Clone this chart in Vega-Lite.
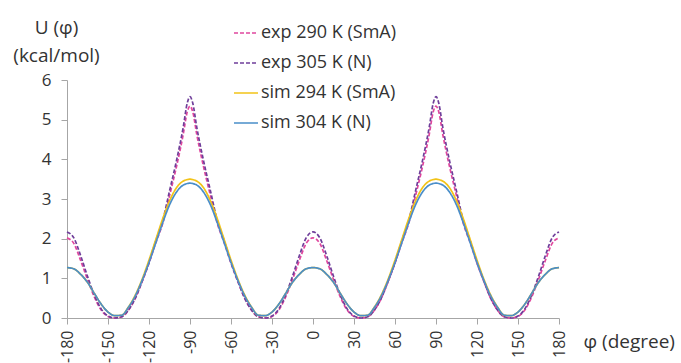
{
"$schema": "https://vega.github.io/schema/vega-lite/v6.json",
"width": 492, "height": 238,
"autosize": {"type": "none"},
"padding": {"left": 67, "top": 80, "right": 122, "bottom": 45},
"config": {"view": {"stroke": null}, "font": "Open Sans",
  "axis": {"domainColor": "#a6a6a6", "tickColor": "#a6a6a6", "tickSize": 6, "labelColor": "#333333", "titleColor": "#333333", "labelFontSize": 17, "titleFontSize": 19, "titleFontWeight": "normal", "grid": false}},
"data": {"values": [
{"phi":-180,"a":2.02,"b":2.17,"c":1.27,"d":1.27},
{"phi":-175,"a":1.88,"b":2.02,"c":1.24,"d":1.24},
{"phi":-170,"a":1.45,"b":1.57,"c":1.1,"d":1.1},
{"phi":-165,"a":0.97,"b":1.05,"c":0.9,"d":0.9},
{"phi":-160,"a":0.53,"b":0.58,"c":0.62,"d":0.62},
{"phi":-155,"a":0.2,"b":0.23,"c":0.35,"d":0.35},
{"phi":-150,"a":0.04,"b":0.05,"c":0.15,"d":0.15},
{"phi":-145,"a":0,"b":0,"c":0.06,"d":0.06},
{"phi":-140,"a":0.03,"b":0.03,"c":0.07,"d":0.07},
{"phi":-135,"a":0.2,"b":0.2,"c":0.28,"d":0.27},
{"phi":-130,"a":0.5,"b":0.5,"c":0.58,"d":0.56},
{"phi":-125,"a":0.92,"b":0.93,"c":0.98,"d":0.95},
{"phi":-120,"a":1.38,"b":1.4,"c":1.46,"d":1.4},
{"phi":-115,"a":1.9,"b":1.95,"c":1.98,"d":1.9},
{"phi":-110,"a":2.38,"b":2.45,"c":2.5,"d":2.4},
{"phi":-105,"a":3.08,"b":3.2,"c":2.95,"d":2.85},
{"phi":-100,"a":3.8,"b":3.95,"c":3.28,"d":3.17},
{"phi":-95,"a":4.62,"b":4.8,"c":3.45,"d":3.35},
{"phi":-92,"a":5.2,"b":5.42,"c":3.49,"d":3.39},
{"phi":-90,"a":5.34,"b":5.58,"c":3.5,"d":3.4},
{"phi":-88,"a":5.2,"b":5.42,"c":3.49,"d":3.39},
{"phi":-85,"a":4.62,"b":4.8,"c":3.45,"d":3.35},
{"phi":-80,"a":3.8,"b":3.95,"c":3.28,"d":3.17},
{"phi":-75,"a":3.08,"b":3.2,"c":2.95,"d":2.85},
{"phi":-70,"a":2.38,"b":2.45,"c":2.5,"d":2.4},
{"phi":-65,"a":1.9,"b":1.95,"c":1.98,"d":1.9},
{"phi":-60,"a":1.38,"b":1.4,"c":1.46,"d":1.4},
{"phi":-55,"a":0.92,"b":0.93,"c":0.98,"d":0.95},
{"phi":-50,"a":0.5,"b":0.5,"c":0.58,"d":0.56},
{"phi":-45,"a":0.2,"b":0.2,"c":0.28,"d":0.27},
{"phi":-40,"a":0.03,"b":0.03,"c":0.07,"d":0.07},
{"phi":-35,"a":0,"b":0,"c":0.06,"d":0.06},
{"phi":-30,"a":0.04,"b":0.05,"c":0.15,"d":0.15},
{"phi":-25,"a":0.2,"b":0.23,"c":0.35,"d":0.35},
{"phi":-20,"a":0.53,"b":0.58,"c":0.62,"d":0.62},
{"phi":-15,"a":0.97,"b":1.05,"c":0.9,"d":0.9},
{"phi":-10,"a":1.45,"b":1.57,"c":1.1,"d":1.1},
{"phi":-5,"a":1.88,"b":2.02,"c":1.24,"d":1.24},
{"phi":0,"a":2.02,"b":2.17,"c":1.27,"d":1.27},
{"phi":5,"a":1.88,"b":2.02,"c":1.24,"d":1.24},
{"phi":10,"a":1.45,"b":1.57,"c":1.1,"d":1.1},
{"phi":15,"a":0.97,"b":1.05,"c":0.9,"d":0.9},
{"phi":20,"a":0.53,"b":0.58,"c":0.62,"d":0.62},
{"phi":25,"a":0.2,"b":0.23,"c":0.35,"d":0.35},
{"phi":30,"a":0.04,"b":0.05,"c":0.15,"d":0.15},
{"phi":35,"a":0,"b":0,"c":0.06,"d":0.06},
{"phi":40,"a":0.03,"b":0.03,"c":0.07,"d":0.07},
{"phi":45,"a":0.2,"b":0.2,"c":0.28,"d":0.27},
{"phi":50,"a":0.5,"b":0.5,"c":0.58,"d":0.56},
{"phi":55,"a":0.92,"b":0.93,"c":0.98,"d":0.95},
{"phi":60,"a":1.38,"b":1.4,"c":1.46,"d":1.4},
{"phi":65,"a":1.9,"b":1.95,"c":1.98,"d":1.9},
{"phi":70,"a":2.38,"b":2.45,"c":2.5,"d":2.4},
{"phi":75,"a":3.08,"b":3.2,"c":2.95,"d":2.85},
{"phi":80,"a":3.8,"b":3.95,"c":3.28,"d":3.17},
{"phi":85,"a":4.62,"b":4.8,"c":3.45,"d":3.35},
{"phi":88,"a":5.2,"b":5.42,"c":3.49,"d":3.39},
{"phi":90,"a":5.34,"b":5.58,"c":3.5,"d":3.4},
{"phi":92,"a":5.2,"b":5.42,"c":3.49,"d":3.39},
{"phi":95,"a":4.62,"b":4.8,"c":3.45,"d":3.35},
{"phi":100,"a":3.8,"b":3.95,"c":3.28,"d":3.17},
{"phi":105,"a":3.08,"b":3.2,"c":2.95,"d":2.85},
{"phi":110,"a":2.38,"b":2.45,"c":2.5,"d":2.4},
{"phi":115,"a":1.9,"b":1.95,"c":1.98,"d":1.9},
{"phi":120,"a":1.38,"b":1.4,"c":1.46,"d":1.4},
{"phi":125,"a":0.92,"b":0.93,"c":0.98,"d":0.95},
{"phi":130,"a":0.5,"b":0.5,"c":0.58,"d":0.56},
{"phi":135,"a":0.2,"b":0.2,"c":0.28,"d":0.27},
{"phi":140,"a":0.03,"b":0.03,"c":0.07,"d":0.07},
{"phi":145,"a":0,"b":0,"c":0.06,"d":0.06},
{"phi":150,"a":0.04,"b":0.05,"c":0.15,"d":0.15},
{"phi":155,"a":0.2,"b":0.23,"c":0.35,"d":0.35},
{"phi":160,"a":0.53,"b":0.58,"c":0.62,"d":0.62},
{"phi":165,"a":0.97,"b":1.05,"c":0.9,"d":0.9},
{"phi":170,"a":1.45,"b":1.57,"c":1.1,"d":1.1},
{"phi":175,"a":1.88,"b":2.02,"c":1.24,"d":1.24},
{"phi":180,"a":2.02,"b":2.17,"c":1.27,"d":1.27}
]},
"transform": [{"fold": ["a", "b", "c", "d"], "as": ["s", "u"]}],
"mark": {"type": "line", "interpolate": "monotone", "strokeWidth": 1.7},
"encoding": {
  "x": {"field": "phi", "type": "quantitative",
    "scale": {"domain": [-180, 180], "nice": false, "zero": false},
    "axis": {"values": [-180,-150,-120,-90,-60,-30,0,30,60,90,120,150,180], "labelAngle": 270, "labelPadding": 6, "labelFontSize": 16,
      "labelExpr": "'' + datum.value",
      "title": "φ (degree)", "titleX": 516, "titleY": 23, "titleAlign": "left", "titleBaseline": "middle", "titleAnchor": null}},
  "y": {"field": "u", "type": "quantitative",
    "scale": {"domain": [0, 6], "nice": false},
    "axis": {"values": [0,1,2,3,4,5,6], "labelPadding": 10,
      "title": ["U (φ)", "(kcal/mol)"], "titleAngle": 0, "titleX": -11, "titleY": -62, "titleAlign": "center", "titleBaseline": "top", "titleLineHeight": 28}},
  "color": {"field": "s", "type": "nominal",
    "scale": {"domain": ["a", "b", "c", "d"], "range": ["#e0479e", "#6f3e9a", "#f2c318", "#4a8ec9"]},
    "legend": {"orient": "none", "legendX": 166, "legendY": -60, "title": null, "symbolType": "stroke", "symbolSize": 576, "symbolStrokeWidth": 1.7, "labelFontSize": 18, "labelColor": "#333333", "labelOffset": 2, "rowPadding": 8,
      "labelExpr": "datum.value=='a'?'exp 290 K (SmA)':datum.value=='b'?'exp 305 K (N)':datum.value=='c'?'sim 294 K (SmA)':'sim 304 K (N)'"}},
  "strokeDash": {"field": "s", "type": "nominal",
    "scale": {"domain": ["a", "b", "c", "d"], "range": [[4, 2], [4, 2], [1, 0], [1, 0]]},
    "legend": {"orient": "none", "legendX": 166, "legendY": -60, "title": null, "symbolType": "stroke", "symbolSize": 576, "symbolStrokeWidth": 1.7, "labelFontSize": 18, "labelColor": "#333333", "labelOffset": 2, "rowPadding": 8,
      "labelExpr": "datum.value=='a'?'exp 290 K (SmA)':datum.value=='b'?'exp 305 K (N)':datum.value=='c'?'sim 294 K (SmA)':'sim 304 K (N)'"}}
}
}
